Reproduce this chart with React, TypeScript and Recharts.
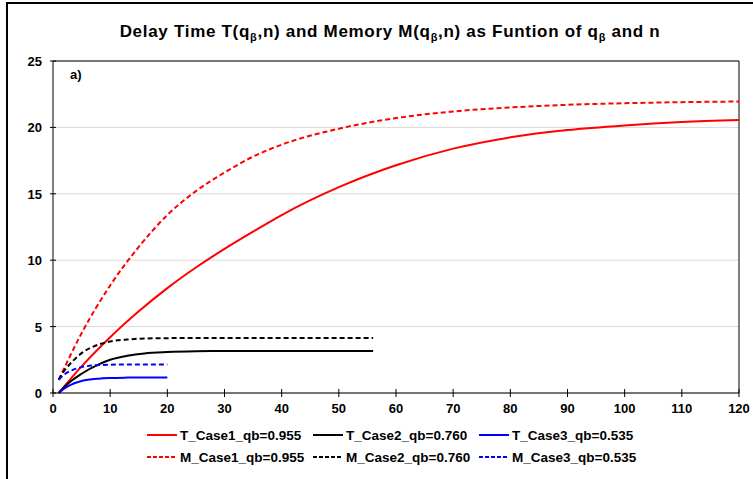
import React from "react";
import { LineChart, Line, XAxis, YAxis, CartesianGrid, ReferenceLine } from "recharts";

// n values per case and curves
const nCase1 = [1, 5, 10, 15, 20, 25, 30, 35, 40, 50, 60, 70, 80, 90, 100, 110, 120];
const tCase1 = [0, 2.0, 4.2, 6.15, 7.9, 9.45, 10.85, 12.15, 13.4, 15.5, 17.15, 18.4, 19.25, 19.8, 20.15, 20.4, 20.55];
const mCase1 = [1.0, 4.5, 8.1, 11.0, 13.4, 15.2, 16.6, 17.8, 18.7, 19.9, 20.7, 21.2, 21.5, 21.7, 21.82, 21.9, 21.95];

const nCase2T = [1, 2, 3, 5, 8, 10, 13, 16, 20, 25, 30, 40, 56];
const tCase2 = [0, 0.45, 0.85, 1.45, 2.15, 2.5, 2.8, 2.98, 3.08, 3.14, 3.16, 3.17, 3.17];
const nCase2M = [1, 2, 3, 5, 8, 10, 13, 16, 20, 30, 56];
const mCase2 = [1.0, 1.7, 2.2, 3.0, 3.65, 3.88, 4.03, 4.1, 4.13, 4.15, 4.15];

const nCase3T = [1, 2, 3, 5, 8, 10, 13, 16, 20];
const tCase3 = [0, 0.35, 0.6, 0.9, 1.08, 1.13, 1.16, 1.17, 1.17];
const nCase3M = [1, 2, 3, 5, 8, 10, 15, 20];
const mCase3 = [1.0, 1.4, 1.65, 1.95, 2.1, 2.13, 2.15, 2.15];

const xTicks = [0, 10, 20, 30, 40, 50, 60, 70, 80, 90, 100, 110, 120];
const yTicks = [0, 5, 10, 15, 20, 25];

const toRows = (ns: number[], vs: number[]) => ns.map((n, i) => ({ n, v: vs[i] }));

const series = [
  { name: "T_Case1_qb=0.955", data: toRows(nCase1, tCase1), color: "#ff0000", dash: undefined },
  { name: "T_Case2_qb=0.760", data: toRows(nCase2T, tCase2), color: "#000000", dash: undefined },
  { name: "T_Case3_qb=0.535", data: toRows(nCase3T, tCase3), color: "#0000ff", dash: undefined },
  { name: "M_Case1_qb=0.955", data: toRows(nCase1, mCase1), color: "#ff0000", dash: "5 3" },
  { name: "M_Case2_qb=0.760", data: toRows(nCase2M, mCase2), color: "#000000", dash: "5 3" },
  { name: "M_Case3_qb=0.535", data: toRows(nCase3M, mCase3), color: "#0000ff", dash: "5 3" },
];

const font = "'Liberation Sans', Arial, sans-serif";

const XTick = ({ x, y, payload }: any) => (
  <g>
    <line x1={x} x2={x} y1={y - 4} y2={y + 4} stroke="#000" />
    <text x={x} y={y + 20} textAnchor="middle" fontSize={13} fontWeight="bold" fontFamily={font} fill="#000">
      {payload.value}
    </text>
  </g>
);

const YTick = ({ x, y, payload }: any) => (
  <g>
    <line x1={x - 3} x2={x + 3} y1={y} y2={y} stroke="#000" />
    <text x={x - 11} y={y + 5} textAnchor="end" fontSize={13} fontWeight="bold" fontFamily={font} fill="#000">
      {payload.value}
    </text>
  </g>
);

function LegendRow({ items }: { items: typeof series }) {
  return (
    <div style={{ display: "flex", alignItems: "center", height: 22 }}>
      {items.map((s) => (
        <div key={s.name} style={{ display: "flex", alignItems: "center", width: 166 }}>
          <svg width={30} height={6} style={{ marginRight: 3 }}>
            <line x1={0} x2={30} y1={3} y2={3} stroke={s.color} strokeWidth={2} strokeDasharray={s.dash ? "4 2" : undefined} />
          </svg>
          <span style={{ whiteSpace: "nowrap" }}>{s.name}</span>
        </div>
      ))}
    </div>
  );
}

export default function App() {
  const sub = { fontSize: 11 };
  return (
    <div style={{ position: "absolute", left: 0, top: 0, width: 753, height: 479, overflow: "hidden", background: "#fff", fontFamily: font }}>
      <div style={{ position: "absolute", left: 6, top: 2, width: 900, height: 700, borderLeft: "2px solid #000", borderTop: "2px solid #000" }} />
      <div style={{ position: "absolute", left: 0, width: 780, top: 22, textAlign: "center", fontSize: 17, letterSpacing: 0.7, fontWeight: "bold", whiteSpace: "nowrap" }}>
        Delay Time T(q<sub style={sub}>β</sub>,n) and Memory M(q<sub style={sub}>β</sub>,n) as Funtion of q<sub style={sub}>β</sub> and n
      </div>
      <LineChart width={753} height={479} margin={{ top: 61, right: 14, bottom: 0, left: 0 }} style={{ position: "absolute", left: 0, top: 0 }}>
        <CartesianGrid horizontal vertical={false} stroke="#d9d9d9" />
        <XAxis
          type="number"
          dataKey="n"
          domain={[0, 120]}
          ticks={xTicks}
          height={86}
          tickLine={false}
          tickSize={0}
          tickMargin={0}
          axisLine={{ stroke: "#000" }}
          tick={<XTick />}
          allowDataOverflow
        />
        <YAxis
          type="number"
          domain={[0, 25]}
          ticks={yTicks}
          width={53}
          tickLine={false}
          tickSize={0}
          tickMargin={0}
          axisLine={{ stroke: "#000" }}
          tick={<YTick />}
        />
        <ReferenceLine y={25} stroke="#000" />
        <ReferenceLine x={120} stroke="#000" />
        {series.map((s) => (
          <Line
            key={s.name}
            data={s.data}
            dataKey="v"
            name={s.name}
            type="monotone"
            stroke={s.color}
            strokeWidth={2}
            strokeDasharray={s.dash}
            dot={false}
            isAnimationActive={false}
          />
        ))}
      </LineChart>
      <div style={{ position: "absolute", left: 70, top: 67, fontSize: 13, fontWeight: "bold" }}>a)</div>
      <div style={{ position: "absolute", left: 147, top: 424, fontSize: 13.5, fontWeight: "bold" }}>
        <LegendRow items={series.slice(0, 3)} />
        <LegendRow items={series.slice(3)} />
      </div>
    </div>
  );
}
